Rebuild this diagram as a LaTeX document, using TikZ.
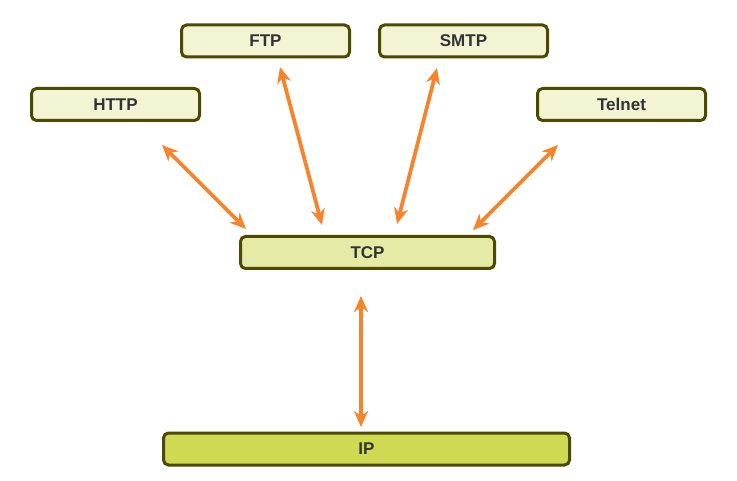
\documentclass[tikz,border=0pt]{standalone}
\usepackage{fontspec}
\setmainfont{Liberation Sans}
\usetikzlibrary{arrows.meta,positioning}
\definecolor{boxBorder}{HTML}{4D4A00}
\definecolor{appFill}{HTML}{F3F4D4}
\definecolor{tcpFill}{HTML}{E5EBA6}
\definecolor{ipFill}{HTML}{CFD951}
\definecolor{linkOrange}{HTML}{F7842D}
\definecolor{labelGray}{HTML}{333333}

\begin{document}
\begin{tikzpicture}[x=1pt,y=-1pt,>={Stealth[length=16pt,width=14pt,inset=5pt]}]

    \tikzstyle{commonNode}=[rectangle, rounded corners=5pt, line width=3pt, draw=boxBorder, text=labelGray, font=\fontsize{17}{19}\selectfont\bfseries, inner sep=0pt, minimum height=32pt]
    \tikzstyle{app}=[commonNode, fill=appFill, minimum width=168pt]
    \tikzstyle{transport}=[commonNode, fill=tcpFill, minimum width=254pt]
    \tikzstyle{network}=[commonNode, fill=ipFill, minimum width=406pt]
    \tikzstyle{link}=[<->, draw=linkOrange, line width=3.8pt]

    \useasboundingbox (0,0) rectangle (737,481);

    % Application layer
    \node at (115.5,104.5) [app]       (HTTP)   {HTTP};
    \node at (265.5,41)    [app]       (FTP)    {FTP};
    \node at (463.5,41)    [app]       (SMTP)   {SMTP};
    \node at (621.5,104.5) [app]       (Telnet) {Telnet};

    % Transport and network
    \node at (367.5,252.5) [transport] (TCP)    {TCP};
    \node at (366.5,449)   [network]   (IP)     {IP};

    % Arrow ends
    \coordinate (HTTPa)   at (162,145);
    \coordinate (HTTPb)   at (246,229);
    \coordinate (FTPa)    at (280,67);
    \coordinate (FTPb)    at (322,225);
    \coordinate (SMTPa)   at (437,68);
    \coordinate (SMTPb)   at (397,224);
    \coordinate (Telneta) at (558,145);
    \coordinate (Telnetb) at (473,230);
    \coordinate (TCPa)    at (361,296);
    \coordinate (IPa)     at (361,427);

    % Links
    \draw [link] (HTTPa)   -- (HTTPb);
    \draw [link] (FTPa)    -- (FTPb);
    \draw [link] (SMTPa)   -- (SMTPb);
    \draw [link] (Telneta) -- (Telnetb);
    \draw [link] (TCPa)    -- (IPa);

\end{tikzpicture}
\end{document}
